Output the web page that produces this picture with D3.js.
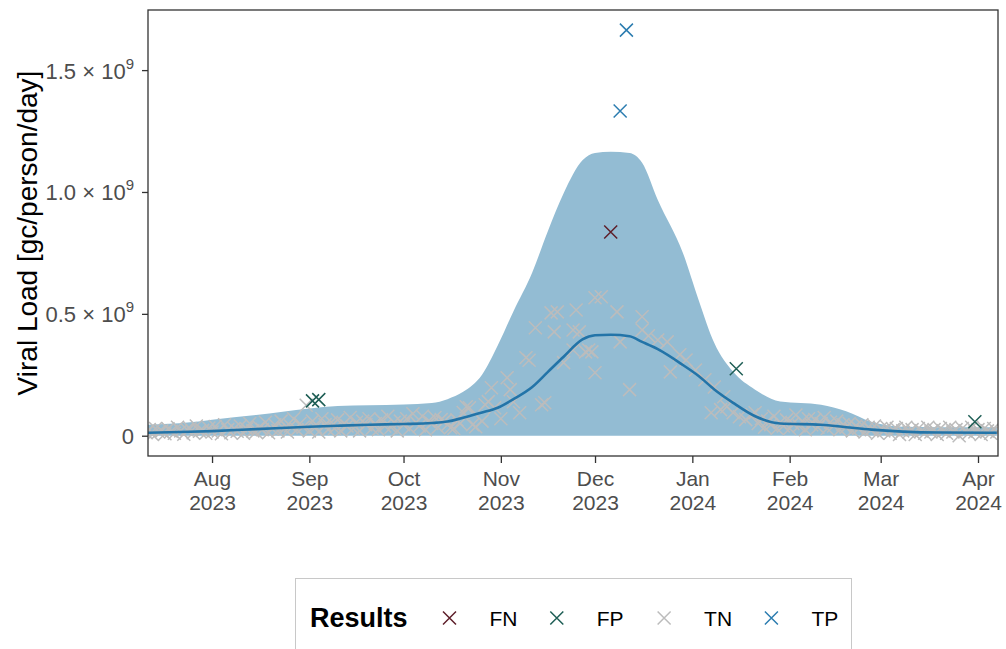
<!DOCTYPE html>
<html>
<head>
<meta charset="utf-8">
<script src="https://cdn.jsdelivr.net/npm/d3@7"></script>
<style>
  body { margin: 0; background: #fff; }
  svg { display: block; font-family: "Liberation Sans", Arial, sans-serif; }
</style>
</head>
<body>
<svg id="chart" width="1006" height="649"></svg>
<script>
// values in 10^9 gc/person/day
var curveDates = ["2023-07-11","2023-07-25","2023-08-01","2023-08-15","2023-09-01","2023-09-10","2023-09-20",
  "2023-10-01","2023-10-10","2023-10-15","2023-10-20","2023-10-26","2023-10-31","2023-11-05","2023-11-11",
  "2023-11-16","2023-11-21","2023-11-27","2023-12-01","2023-12-06","2023-12-12","2023-12-16","2023-12-21",
  "2023-12-29","2024-01-03","2024-01-08","2024-01-14","2024-01-21","2024-01-29","2024-02-11","2024-02-19",
  "2024-02-27","2024-03-08","2024-03-20","2024-04-07"];
var meanLoad = [0.012,0.016,0.019,0.027,0.037,0.041,0.045,0.048,0.052,0.058,0.074,0.095,0.115,0.150,0.200,
  0.262,0.324,0.395,0.412,0.414,0.408,0.385,0.355,0.290,0.245,0.190,0.135,0.080,0.050,0.045,0.035,
  0.025,0.017,0.013,0.012];
var upperLoad = [0.045,0.055,0.066,0.085,0.112,0.122,0.125,0.128,0.134,0.150,0.180,0.250,0.370,0.510,0.670,
  0.840,0.995,1.130,1.160,1.165,1.160,1.120,0.967,0.750,0.557,0.380,0.262,0.189,0.140,0.127,0.100,
  0.057,0.037,0.035,0.035];

// true negatives, daily runs
var tnJul = [0.012,0.025,0.005,0.030,0.015,0.020,0.008,0.028,0.018,0.010,0.035,0.020,0.006,0.025,0.030,
  0.012,0.040,0.018,0.022,0.010,0.032];
var tnAug = [0.015,0.038,0.020,0.008,0.045,0.025,0.012,0.030,0.018,0.040,0.010,0.028,0.050,0.020,0.015,
  0.035,0.025,0.055,0.012,0.030,0.045,0.020,0.060,0.028,0.015,0.040,0.070,0.025,0.050,0.035,0.125];
var tnSep = [0.020,0.060,0.035,0.015,0.070,0.045,0.025,0.055,0.030,0.065,0.020,0.050,0.040,0.075,0.030,
  0.055,0.020,0.060,0.045,0.070,0.030,0.050,0.025,0.065,0.040,0.080,0.035,0.055,0.020,0.060];
var tnOct = [0.045,0.070,0.030,0.090,0.055,0.040,0.080,0.025,0.060,0.050,0.075,0.035,0.066,0.060,0.045,
  0.033,0.030,0.065,0.050,0.095];
var tnJan = [0.050,0.070,0.035,0.060,0.045,0.080,0.030,0.055,0.040,0.065];
var tnFeb = [0.030,0.050,0.085,0.040,0.060,0.025,0.070,0.045,0.066,0.035,0.050,0.075,0.030,0.055,0.040,
  0.060,0.025,0.045,0.035,0.050,0.020,0.040,0.030,0.045,0.015,0.035,0.025,0.040,0.010];
var tnMar = [0.030,0.020,0.035,0.010,0.025,0.030,0.005,0.020,0.035,0.015,0.025,0.005,0.030,0.020,0.010,
  0.035,0.015,0.025,0.005,0.030,0.020,0.010,0.035,0.015,0.025,0.000,0.030,0.020,0.010,0.035,0.015];
var tnApr = [0.025,0.005,0.030,0.020,0.010,0.030,0.015];
var tnRunStarts = ["2023-07-11","2023-08-01","2023-09-01","2023-10-01","2024-01-22","2024-02-01","2024-03-01","2024-04-01"];

// true negatives during the wave
var tnPeak = [["2023-10-21",0.119],["2023-10-22",0.115],["2023-10-23",0.045],["2023-10-24",0.037],
  ["2023-10-26",0.060],["2023-10-27",0.127],["2023-10-28",0.140],["2023-10-29",0.197],["2023-10-30",0.115],
  ["2023-11-01",0.070],["2023-11-03",0.238],["2023-11-04",0.189],["2023-11-05",0.139],["2023-11-07",0.094],
  ["2023-11-09",0.320],["2023-11-10",0.310],["2023-11-12",0.443],["2023-11-14",0.127],["2023-11-15",0.135],
  ["2023-11-17",0.504],["2023-11-18",0.426],["2023-11-19",0.508],["2023-11-21",0.300],["2023-11-24",0.434],
  ["2023-11-24",0.352],["2023-11-25",0.516],["2023-11-26",0.426],["2023-11-28",0.344],["2023-11-29",0.352],
  ["2023-11-30",0.344],["2023-12-01",0.258],["2023-12-01",0.566],["2023-12-03",0.570],["2023-12-08",0.508],
  ["2023-12-09",0.385],["2023-12-12",0.189],["2023-12-16",0.488],["2023-12-16",0.434],["2023-12-18",0.410],
  ["2023-12-21",0.393],["2023-12-24",0.385],["2023-12-25",0.262],["2023-12-28",0.332],["2023-12-30",0.311],
  ["2024-01-02",0.270],["2024-01-05",0.230],["2024-01-07",0.094],["2024-01-08",0.200],["2024-01-10",0.107],
  ["2024-01-11",0.160],["2024-01-12",0.119],["2024-01-14",0.094],["2024-01-16",0.078],["2024-01-18",0.066],
  ["2024-01-20",0.086],["2024-01-21",0.094]];

var fnDates = ["2023-12-06"], fnValues = [0.836];
var fpDates = ["2023-09-02","2023-09-04","2024-01-15","2024-03-31"], fpValues = [0.143,0.148,0.275,0.057];
var tpDates = ["2023-12-09","2023-12-11"], tpValues = [1.332,1.664];

var xTicks = ["2023-08-01","2023-09-01","2023-10-01","2023-11-01","2023-12-01","2024-01-01","2024-02-01","2024-03-01","2024-04-01"];
var yTicks = [0, 0.5, 1.0, 1.5];
var legendLabels = ["FN","FP","TN","TP"];
var colors = {FN: "#5e1f2a", FP: "#1e5e55", TN: "#bcbcbc", TP: "#2c7db0"};

var parse = d3.utcParse("%Y-%m-%d");
var DAY = 864e5;

var svg = d3.select("#chart"),
    panel = {left: 148, right: 998, top: 10, bottom: 456};

var aug1 = parse("2023-08-01"), apr1 = parse("2024-04-01");
var x = d3.scaleUtc()
    .domain([new Date(+aug1 - 20.4 * DAY), new Date(+apr1 + 6.37 * DAY)])
    .range([panel.left, panel.right]);
var y = d3.scaleLinear().domain([-0.0832, 1.7466]).range([panel.bottom, panel.top]);

// tn points built from the runs
var tnRuns = [tnJul, tnAug, tnSep, tnOct, tnJan, tnFeb, tnMar, tnApr];
var tnPoints = [];
tnRuns.forEach(function(run, i) {
  var start = parse(tnRunStarts[i]);
  run.forEach(function(v, k) { tnPoints.push({date: d3.utcDay.offset(start, k), value: v}); });
});
tnPeak.forEach(function(p) { tnPoints.push({date: parse(p[0]), value: p[1]}); });
tnPoints.sort(function(a, b) { return a.date - b.date; });

var band = curveDates.map(function(d, i) {
  return {date: parse(d), mean: meanLoad[i], upper: upperLoad[i]};
});

var defs = svg.append("defs");
defs.append("clipPath").attr("id", "clip").append("rect")
  .attr("x", panel.left).attr("y", panel.top)
  .attr("width", panel.right - panel.left).attr("height", panel.bottom - panel.top);

var plot = svg.append("g").attr("clip-path", "url(#clip)");

plot.append("path")
  .datum(band)
  .attr("fill", "#93bcd3")
  .attr("d", d3.area()
    .x(function(d) { return x(d.date); })
    .y0(y(0))
    .y1(function(d) { return y(d.upper); })
    .curve(d3.curveMonotoneX));

var cross = function(sel, color) {
  sel.append("path")
    .attr("d", "M-6.5,-6.5L6.5,6.5M-6.5,6.5L6.5,-6.5")
    .attr("stroke", color)
    .attr("stroke-width", 1.5)
    .attr("fill", "none");
};

plot.selectAll(".tn")
  .data(tnPoints)
  .enter().append("g")
  .attr("class", "tn")
  .attr("transform", function(d) { return "translate(" + x(d.date) + "," + y(d.value) + ")"; })
  .call(cross, colors.TN);

plot.append("path")
  .datum(band)
  .attr("fill", "none")
  .attr("stroke", "#2374a8")
  .attr("stroke-width", 2.6)
  .attr("d", d3.line()
    .x(function(d) { return x(d.date); })
    .y(function(d) { return y(d.mean); })
    .curve(d3.curveMonotoneX));

var drawGroup = function(name, dates, values) {
  var pts = dates.map(function(d, i) { return {date: parse(d), value: values[i]}; });
  plot.selectAll(".p" + name)
    .data(pts)
    .enter().append("g")
    .attr("class", "p" + name)
    .attr("transform", function(d) { return "translate(" + x(d.date) + "," + y(d.value) + ")"; })
    .call(cross, colors[name]);
};
drawGroup("FN", fnDates, fnValues);
drawGroup("FP", fpDates, fpValues);
drawGroup("TP", tpDates, tpValues);

// panel border
svg.append("rect")
  .attr("x", panel.left).attr("y", panel.top)
  .attr("width", panel.right - panel.left).attr("height", panel.bottom - panel.top)
  .attr("fill", "none").attr("stroke", "#333").attr("stroke-width", 1.3);

// y axis
var yAxis = svg.append("g")
  .attr("transform", "translate(" + panel.left + ",0)")
  .call(d3.axisLeft(y).tickValues(yTicks).tickSize(6).tickPadding(8).tickFormat(""));
yAxis.select(".domain").remove();
yAxis.selectAll(".tick line").attr("stroke", "#333").attr("stroke-width", 1.3);
yAxis.selectAll(".tick text")
  .attr("fill", "#4d4d4d").attr("font-size", 22).attr("dy", "0.36em")
  .each(function(d) {
    var t = d3.select(this);
    if (d === 0) { t.text("0"); return; }
    t.append("tspan").text(d.toFixed(1) + " \u00d7 10");
    t.append("tspan").attr("dy", -10).attr("font-size", 15).text("9");
  });

// x axis: month and year as two separate labels
var monthFmt = d3.utcFormat("%b"), yearFmt = d3.utcFormat("%Y");
var xAxis = svg.append("g")
  .attr("transform", "translate(0," + panel.bottom + ")")
  .call(d3.axisBottom(x).tickValues(xTicks.map(parse)).tickSize(7).tickPadding(6).tickFormat(""));
xAxis.select(".domain").remove();
xAxis.selectAll(".tick line").attr("stroke", "#333").attr("stroke-width", 1.3);
xAxis.selectAll(".tick text").remove();
xAxis.selectAll(".tick").each(function(d) {
  var t = d3.select(this);
  t.append("text").attr("y", 30).attr("text-anchor", "middle")
    .attr("fill", "#4d4d4d").attr("font-size", 21).text(monthFmt(d));
  t.append("text").attr("y", 54).attr("text-anchor", "middle")
    .attr("fill", "#4d4d4d").attr("font-size", 21).text(yearFmt(d));
});

// axis title
svg.append("text")
  .attr("transform", "translate(37," + ((panel.top + panel.bottom) / 2) + ") rotate(-90)")
  .attr("text-anchor", "middle")
  .attr("font-size", 28)
  .attr("fill", "#000")
  .text("Viral Load [gc/person/day]");

// legend
var legend = svg.append("g");
legend.append("rect")
  .attr("x", 295.5).attr("y", 578.5).attr("width", 556).attr("height", 90)
  .attr("fill", "#fff").attr("stroke", "#c8c8c8").attr("stroke-width", 1);
legend.append("text")
  .attr("x", 310).attr("y", 627)
  .attr("font-size", 27).attr("font-weight", "bold").attr("fill", "#000")
  .text("Results");
legendLabels.forEach(function(name, i) {
  var cx = 449.5 + i * 107.3;
  legend.append("g").attr("transform", "translate(" + cx + ",618)").call(cross, colors[name]);
  legend.append("text")
    .attr("x", cx + 40).attr("y", 626)
    .attr("font-size", 21).attr("fill", "#000")
    .text(name);
});
</script>
</body>
</html>
